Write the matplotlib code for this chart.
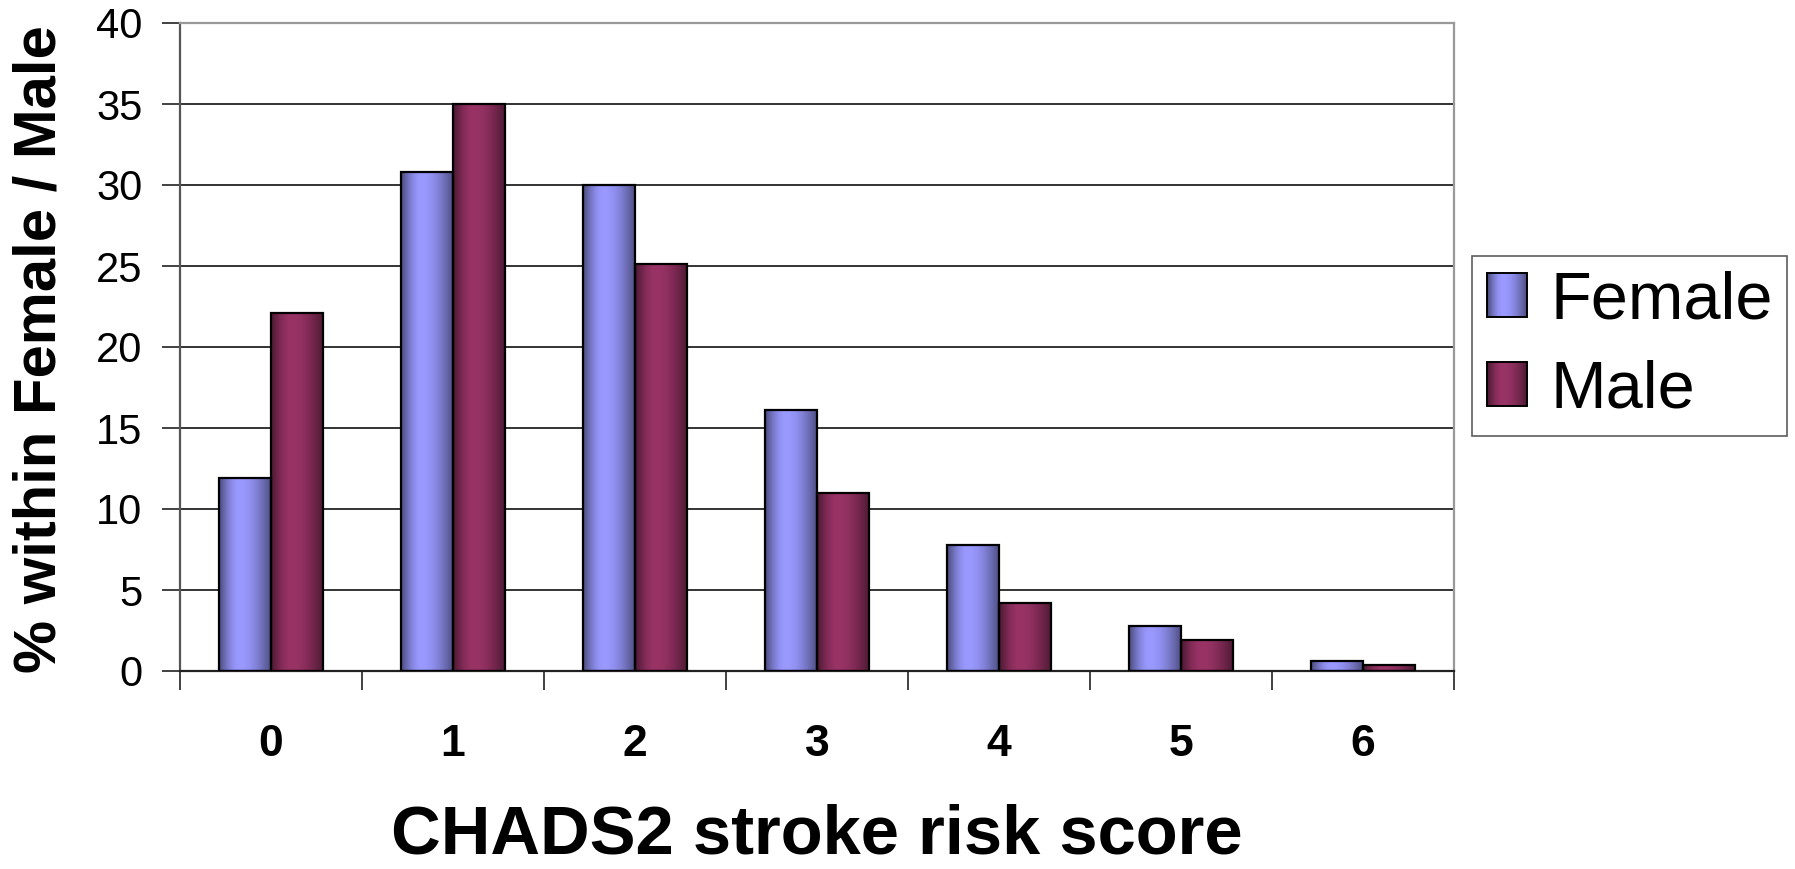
import numpy as np
import matplotlib
matplotlib.use("Agg")
import matplotlib.pyplot as plt
from matplotlib.patches import Rectangle
from matplotlib.legend_handler import HandlerBase

# ---- data ----
categories = ["0", "1", "2", "3", "4", "5", "6"]
female = [11.9, 30.8, 30.0, 16.1, 7.8, 2.8, 0.6]
male = [22.1, 35.0, 25.1, 11.0, 4.2, 1.9, 0.4]
series_names = ["Female", "Male"]
y_ticks = [0, 5, 10, 15, 20, 25, 30, 35, 40]

female_color = np.array([153, 153, 255]) / 255.0
male_color = np.array([153, 51, 102]) / 255.0

plt.rcParams['font.family'] = ['Liberation Sans', 'DejaVu Sans']

W, H = 1795, 869
fig = plt.figure(figsize=(W / 100, H / 100), dpi=100)
ax = fig.add_axes([180 / W, 1 - 671 / H, (1454 - 180) / W, (671 - 23) / H])


def profile(n=200):
    x = np.linspace(0, 1, n)
    f = np.where(x < 0.4,
                 0.48 + 0.52 * np.sin(np.clip(x / 0.4, 0, 1) * np.pi / 2),
                 0.52 + 0.48 * np.sin(np.clip((1 - x) / 0.6, 0, 1) * np.pi / 2))
    return f


def grad_rgba(base, n=200):
    f = profile(n)
    rgb = np.clip(base[None, :] * f[:, None], 0, 1)
    rgba = np.concatenate([rgb, np.ones((n, 1))], axis=1)
    return rgba[None, :, :]


x = np.arange(len(categories))
bw = 1 / 3.5
bars_f = ax.bar(x - bw / 2, female, width=bw, facecolor='none', edgecolor='black',
                linewidth=1.6, zorder=3)
bars_m = ax.bar(x + bw / 2, male, width=bw, facecolor='none', edgecolor='black',
                linewidth=1.6, zorder=3)

for bars, base in ((bars_f, female_color), (bars_m, male_color)):
    img = grad_rgba(base)
    for p in bars:
        x0, w, h = p.get_x(), p.get_width(), p.get_height()
        ax.imshow(img, extent=[x0, x0 + w, 0, h], aspect='auto',
                  interpolation='bilinear', zorder=2.5)

ax.set_xlim(-0.5, len(categories) - 0.5)
ax.set_ylim(0, 40)
ax.set_aspect('auto')

# gridlines
ax.set_yticks(y_ticks)
ax.yaxis.grid(True, color='#333333', linewidth=1.4, zorder=1)
ax.set_axisbelow(True)

# ticks
ax.set_xticks(x)
ax.set_xticklabels(categories, fontsize=32, fontweight='bold')
ax.set_xticks(np.arange(-0.5, len(categories)), minor=True)
ax.tick_params(axis='x', which='major', length=0, pad=38)
ax.tick_params(axis='x', which='minor', length=14, width=1.3, color='#333333', direction='out')
ax.tick_params(axis='y', which='major', length=13, width=1.3, color='#333333',
               direction='out', labelsize=30, pad=14)

for s in ('top', 'right'):
    ax.spines[s].set_color('#999999')
    ax.spines[s].set_linewidth(1.6)
ax.spines['left'].set_color('#555555')
ax.spines['left'].set_linewidth(1.6)
ax.spines['bottom'].set_color('#222222')
ax.spines['bottom'].set_linewidth(1.6)

# labels
ax.set_xlabel("CHADS2 stroke risk score", fontsize=49.5, fontweight='bold')
ax.xaxis.label.set_va('baseline')
ax.xaxis.set_label_coords(0.5, (671 - 853) / 648)
ax.set_ylabel("% within Female / Male", fontsize=43, fontweight='bold')
ax.yaxis.label.set_va('center')
ax.yaxis.set_label_coords((40 - 180) / 1274, (671 - 349) / 648)


class GradHandler(HandlerBase):
    def __init__(self, base):
        super().__init__()
        self.base = base

    def create_artists(self, legend, orig_handle, xdescent, ydescent, width,
                       height, fontsize, trans):
        f = profile(40)
        n = len(f)
        arts = []
        for k in range(n):
            c = np.clip(self.base * f[k], 0, 1)
            r = Rectangle((-xdescent + width * k / n, -ydescent), width / n * 1.05, height,
                          facecolor=c, edgecolor='none', transform=trans)
            arts.append(r)
        arts.append(Rectangle((-xdescent, -ydescent), width, height, facecolor='none',
                              edgecolor='black', linewidth=1.4, transform=trans))
        return arts


h1 = Rectangle((0, 0), 1, 1)
h2 = Rectangle((0, 0), 1, 1)
leg = fig.legend([h1, h2], series_names,
                 handler_map={h1: GradHandler(female_color), h2: GradHandler(male_color)},
                 loc='center left', bbox_to_anchor=(1472 / W, 1 - 346 / H),
                 bbox_transform=fig.transFigure, borderaxespad=0,
                 fontsize=48, frameon=True, fancybox=False, shadow=False,
                 handlelength=0.6, handleheight=0.64, handletextpad=0.35,
                 labelspacing=0.4, borderpad=0.22)
leg.get_frame().set_edgecolor('#333333')
leg.get_frame().set_linewidth(1.2)

fig.savefig("out.png", dpi=100, facecolor='white')
